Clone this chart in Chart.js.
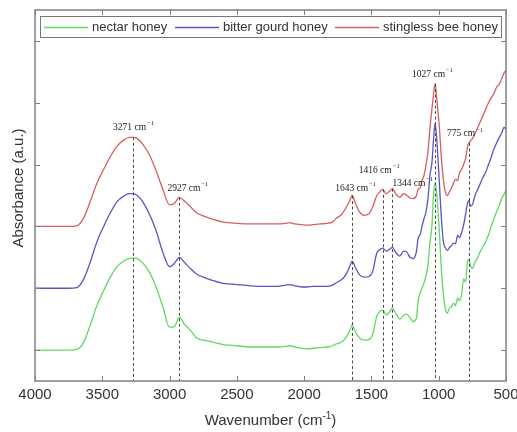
<!DOCTYPE html>
<html>
<head>
<meta charset="utf-8">
<script src="https://cdn.jsdelivr.net/npm/chart.js@4.4.1/dist/chart.umd.min.js"></script>
<style>
  body { margin: 0; background: #fff; }
  canvas { display: block; }
</style>
</head>
<body>
<canvas id="ftir-chart" width="517" height="432"></canvas>
<script>
// FTIR spectra of three honeys (stacked, offset by one unit each)
const wavenumbers = [
  4000, 3750, 3690, 3640, 3590, 3540, 3490, 3440, 3390, 3340, 3300, 3271, 3240, 3200, 3150, 3100,
  3050, 3000, 2965, 2927, 2890, 2850, 2800, 2750, 2700, 2600, 2500, 2400, 2300, 2200, 2140, 2110,
  2070, 2020, 1980, 1930, 1880, 1830, 1790, 1760, 1720, 1690, 1660, 1643, 1620, 1590, 1555, 1520,
  1490, 1460, 1440, 1416, 1390, 1365, 1344, 1320, 1290, 1260, 1236, 1213, 1190, 1165, 1154, 1139,
  1124, 1110, 1095, 1080, 1065, 1050, 1040, 1027, 1010, 995, 980, 965, 950, 935, 920, 905,
  890, 875, 860, 845, 830, 815, 800, 785, 775, 765, 750, 730, 710, 690, 670, 650,
  630, 610, 590, 570, 550, 530, 515, 500
];

const nectarHoney = [
  0, 0, 0.01, 0.12, 0.4, 0.72, 0.96, 1.18, 1.35, 1.44, 1.48, 1.49, 1.48, 1.41, 1.26, 1.02,
  0.7, 0.37, 0.38, 0.53, 0.42, 0.33, 0.2, 0.16, 0.14, 0.09, 0.07, 0.05, 0.05, 0.05, 0.06, 0.07,
  0.05, 0.03, 0.02, 0.03, 0.04, 0.05, 0.07, 0.1, 0.13, 0.2, 0.32, 0.41, 0.3, 0.2, 0.16, 0.17,
  0.26, 0.55, 0.62, 0.65, 0.57, 0.62, 0.68, 0.6, 0.5, 0.56, 0.58, 0.52, 0.46, 0.52, 0.78, 0.92,
  1.0, 1.08, 1.2, 1.37, 1.74, 2.02, 2.46, 2.71, 2.4, 1.9, 1.3, 0.9, 0.66, 0.6, 0.68, 0.7,
  0.76, 0.72, 0.84, 0.8, 0.9, 1.15, 1.1, 1.45, 1.46, 1.38, 1.32, 1.42, 1.5, 1.6, 1.68, 1.76,
  1.86, 2.0, 2.12, 2.24, 2.34, 2.46, 2.52, 2.58
];

const bitterGourdHoney = [
  0, 0, 0.01, 0.14, 0.42, 0.75, 1.0, 1.22, 1.4, 1.49, 1.53, 1.53, 1.5, 1.4, 1.2, 0.93,
  0.58, 0.35, 0.4, 0.5, 0.42, 0.33, 0.23, 0.18, 0.14, 0.08, 0.06, 0.04, 0.03, 0.03, 0.05, 0.06,
  0.04, 0.02, 0.02, 0.03, 0.03, 0.03, 0.05, 0.09, 0.14, 0.22, 0.36, 0.44, 0.34, 0.22, 0.18, 0.19,
  0.28, 0.57, 0.62, 0.65, 0.6, 0.63, 0.66, 0.58, 0.52, 0.6, 0.58, 0.5, 0.48, 0.6, 0.8, 0.86,
  1.0, 1.12, 1.23, 1.45, 1.83, 2.04, 2.36, 2.67, 2.26, 1.7, 1.13, 0.75, 0.65, 0.61, 0.66, 0.69,
  0.73, 0.72, 0.86, 0.82, 0.9, 1.02, 1.2, 1.38, 1.42, 1.33, 1.35, 1.5, 1.6, 1.7, 1.8, 1.88,
  2.0, 2.12, 2.25, 2.35, 2.44, 2.52, 2.6, 2.58
];

const stinglessBeeHoney = [
  0, 0, 0.01, 0.13, 0.4, 0.7, 0.92, 1.13, 1.3, 1.4, 1.44, 1.44, 1.42, 1.33, 1.16, 0.9,
  0.6, 0.35, 0.37, 0.47, 0.41, 0.33, 0.22, 0.17, 0.13, 0.07, 0.05, 0.04, 0.04, 0.04, 0.05, 0.06,
  0.04, 0.03, 0.02, 0.03, 0.04, 0.05, 0.07, 0.13, 0.2, 0.3, 0.42, 0.5, 0.38, 0.24, 0.18, 0.2,
  0.32, 0.5, 0.55, 0.6, 0.53, 0.57, 0.61, 0.53, 0.47, 0.53, 0.5, 0.46, 0.45, 0.5, 0.6, 0.62,
  0.74, 0.82, 0.99, 1.2, 1.6, 1.91, 2.1, 2.31, 1.96, 1.6, 1.1, 0.75, 0.55, 0.5, 0.56, 0.62,
  0.7, 0.76, 0.74, 0.87, 0.92, 1.0, 1.1, 1.3, 1.35, 1.38, 1.42, 1.5, 1.6, 1.7, 1.8, 1.9,
  2.0, 2.08, 2.15, 2.25, 2.3, 2.4, 2.48, 2.52
];

const seriesNames = ['nectar honey', 'bitter gourd honey', 'stingless bee honey'];
const seriesColors = ['#62d862', '#5656c4', '#d65e5e'];
const stackOffsets = [0, 1, 2];

// marked bands (cm-1), dashed line drops from the top spectrum
const peakPositions = [3271, 2927, 1643, 1416, 1344, 1027, 775];
// label placement relative to the top of each dashed line: [dx to text start, dy to text middle]
const peakLabelOffsets = [[-20, -10], [-12, -9], [-17, -7], [-24, -19], [0, -5], [-23, -9], [-22, -9]];

const xTickValues = [4000, 3500, 3000, 2500, 2000, 1500, 1000, 500];
const yTickValues = [0, 1, 2, 3, 4, 5];

const allSeries = [nectarHoney, bitterGourdHoney, stinglessBeeHoney];

const datasets = allSeries.map((values, i) => ({
  label: seriesNames[i],
  data: wavenumbers.map((w, j) => ({ x: w, y: values[j] + stackOffsets[i] })),
  borderColor: seriesColors[i],
  borderWidth: 1.3,
  pointRadius: 0,
  cubicInterpolationMode: 'monotone',
  fill: false
}));

// draws frame, inward ticks, labels, peak markers and the boxed legend
const overlay = {
  id: 'overlay',
  afterDatasetsDraw(chart) {
    const { ctx, chartArea: a, scales: { x, y } } = chart;
    const top = stinglessBeeHoney;
    ctx.save();

    // dashed peak markers
    ctx.strokeStyle = '#4a4a4a';
    ctx.lineWidth = 1;
    ctx.setLineDash([3, 2.5]);
    peakPositions.forEach(p => {
      const idx = wavenumbers.indexOf(p);
      const px = Math.round(x.getPixelForValue(p)) + 0.5;
      ctx.beginPath();
      ctx.moveTo(px, y.getPixelForValue(top[idx] + stackOffsets[2]));
      ctx.lineTo(px, a.bottom);
      ctx.stroke();
    });
    ctx.setLineDash([]);

    // peak labels
    ctx.fillStyle = '#222';
    ctx.textBaseline = 'middle';
    ctx.textAlign = 'left';
    peakPositions.forEach((p, i) => {
      const idx = wavenumbers.indexOf(p);
      const px = x.getPixelForValue(p) + peakLabelOffsets[i][0];
      const py = y.getPixelForValue(top[idx] + stackOffsets[2]) + peakLabelOffsets[i][1];
      ctx.font = '9.5px "Liberation Serif", serif';
      const main = p + ' cm';
      ctx.fillText(main, px, py);
      const w = ctx.measureText(main).width;
      ctx.font = '6.5px "Liberation Serif", serif';
      ctx.fillText('\u22121', px + w + 1, py - 4);
    });

    // frame
    ctx.strokeStyle = '#808080';
    ctx.lineWidth = 1.5;
    ctx.strokeRect(a.left, a.top, a.width, a.height);

    // inward ticks
    ctx.lineWidth = 1;
    ctx.beginPath();
    xTickValues.forEach(v => {
      const px = Math.round(x.getPixelForValue(v)) + 0.5;
      ctx.moveTo(px, a.bottom); ctx.lineTo(px, a.bottom - 5);
      ctx.moveTo(px, a.top); ctx.lineTo(px, a.top + 5);
    });
    yTickValues.forEach(v => {
      const py = Math.round(y.getPixelForValue(v)) + 0.5;
      ctx.moveTo(a.left, py); ctx.lineTo(a.left + 5, py);
      ctx.moveTo(a.right, py); ctx.lineTo(a.right - 5, py);
    });
    ctx.stroke();

    // x tick labels
    ctx.fillStyle = '#333';
    ctx.font = '15px "Liberation Sans", Arial, sans-serif';
    ctx.textAlign = 'center';
    ctx.textBaseline = 'middle';
    xTickValues.forEach(v => {
      ctx.fillText(String(v), x.getPixelForValue(v), a.bottom + 14);
    });

    // x axis title with superscript
    const t1 = 'Wavenumber (cm';
    const t2 = '-1';
    const t3 = ')';
    ctx.font = '15px "Liberation Sans", Arial, sans-serif';
    const w1 = ctx.measureText(t1).width;
    const w3 = ctx.measureText(t3).width;
    ctx.font = '10px "Liberation Sans", Arial, sans-serif';
    const w2 = ctx.measureText(t2).width;
    let tx = (a.left + a.right) / 2 - (w1 + w2 + w3) / 2;
    const ty = a.bottom + 40;
    ctx.textAlign = 'left';
    ctx.font = '15px "Liberation Sans", Arial, sans-serif';
    ctx.fillText(t1, tx, ty);
    ctx.font = '10px "Liberation Sans", Arial, sans-serif';
    ctx.fillText(t2, tx + w1, ty - 5);
    ctx.font = '15px "Liberation Sans", Arial, sans-serif';
    ctx.fillText(t3, tx + w1 + w2, ty);

    // y axis title
    ctx.save();
    ctx.translate(19, 188);
    ctx.rotate(-Math.PI / 2);
    ctx.textAlign = 'center';
    ctx.fillText('Absorbance (a.u.)', 0, 0);
    ctx.restore();

    // legend box
    ctx.fillStyle = '#fff';
    ctx.fillRect(a.left + 5, a.top + 6, 461, 21);
    ctx.strokeStyle = '#777';
    ctx.lineWidth = 1;
    ctx.strokeRect(a.left + 5.5, a.top + 6.5, 461, 21);
    const legendX = [44, 175, 335];
    const ly = a.top + 17.5;
    ctx.font = '13px "Liberation Sans", Arial, sans-serif';
    ctx.textBaseline = 'middle';
    ctx.textAlign = 'left';
    seriesNames.forEach((name, i) => {
      ctx.strokeStyle = seriesColors[i];
      ctx.lineWidth = 1.3;
      ctx.beginPath();
      ctx.moveTo(legendX[i], ly);
      ctx.lineTo(legendX[i] + 44, ly);
      ctx.stroke();
      ctx.fillStyle = '#333';
      ctx.fillText(name, legendX[i] + 48, ly);
    });

    ctx.restore();
  }
};

new Chart(document.getElementById('ftir-chart'), {
  type: 'line',
  data: { datasets },
  options: {
    responsive: false,
    animation: false,
    devicePixelRatio: 1,
    layout: { padding: { left: 35, right: 11, top: 10, bottom: 51 } },
    plugins: { legend: { display: false }, tooltip: { enabled: false } },
    scales: {
      x: { type: 'linear', reverse: true, min: 500, max: 4000, display: false },
      y: { type: 'linear', min: -0.5, max: 5.5, display: false }
    }
  },
  plugins: [overlay]
});
</script>
</body>
</html>
